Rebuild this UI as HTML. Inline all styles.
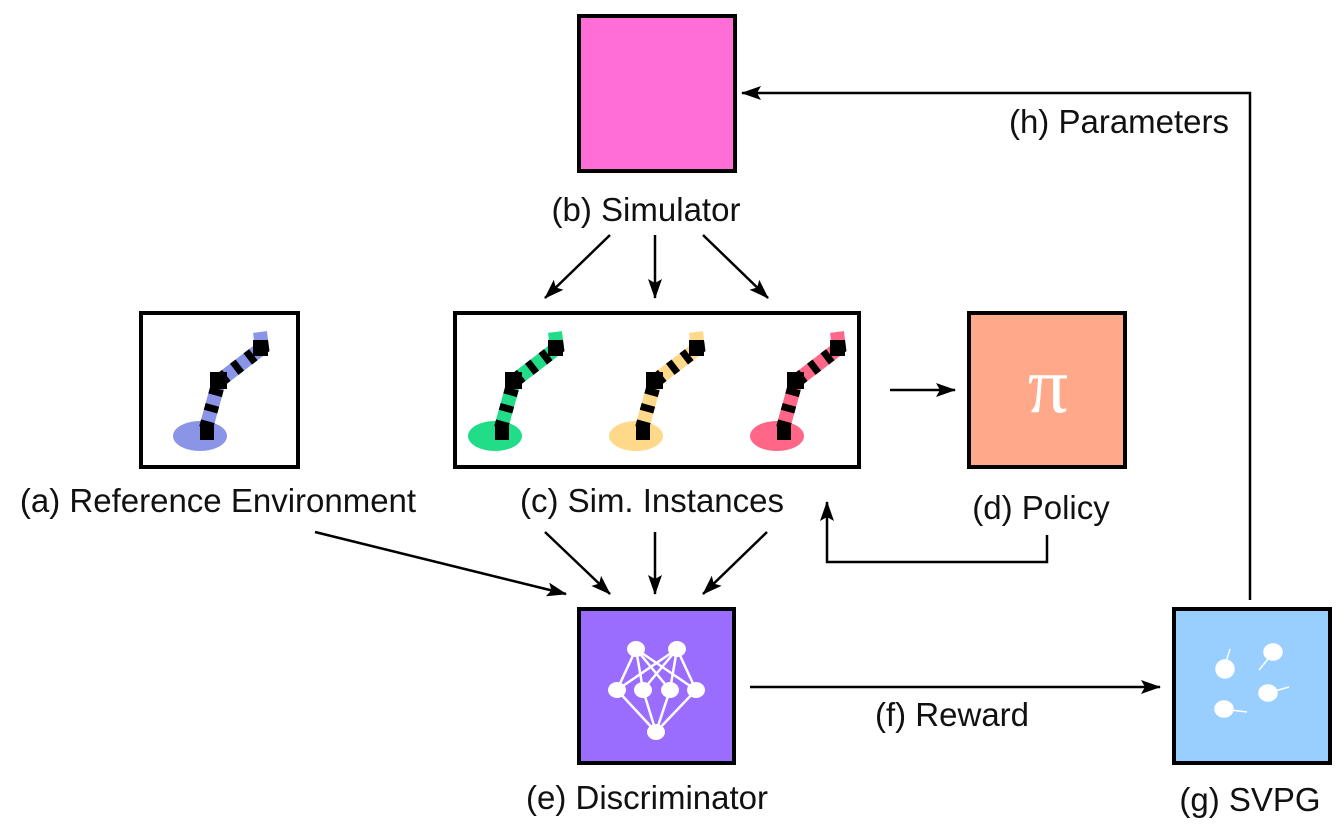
<!DOCTYPE html>
<html><head><meta charset="utf-8"><style>
html,body{margin:0;padding:0;background:#fff;}
svg{display:block;}
text{font-family:"Liberation Sans",sans-serif;font-size:33px;fill:#111;}
</style></head><body>
<svg width="1344" height="828" viewBox="0 0 1344 828" xmlns="http://www.w3.org/2000/svg">
<defs>
<marker id="ah2" markerWidth="20" markerHeight="14" refX="19" refY="7" orient="auto" markerUnits="userSpaceOnUse" viewBox="0 0 20 14">
<path d="M0,0 L20,7 L0,14 L4,7 Z" fill="#000"/></marker>
<g id="arm">
<path d="M6,-8 L19,-55 L62,-88 L60,-104" fill="none" stroke="var(--c)" stroke-width="14"/>
<path d="M6,-8 L19,-55 L62,-88 L61,-96" fill="none" stroke="#000" stroke-width="14" stroke-dasharray="7 10"/>
<rect x="10" y="-64" width="17" height="17" fill="#000"/>
<rect x="53" y="-96" width="15" height="16" fill="#000"/>
<rect x="0" y="-10" width="14" height="14" fill="#000"/>
</g>
</defs>

<rect x="579" y="16" width="156" height="155" fill="#ff6ed6" stroke="#000" stroke-width="4"/>
<rect x="141" y="313" width="157" height="154" fill="#fff" stroke="#000" stroke-width="4"/>
<rect x="455" y="313" width="404" height="154" fill="#fff" stroke="#000" stroke-width="4"/>
<rect x="969" y="313" width="156" height="154" fill="#ffa88a" stroke="#000" stroke-width="4"/>
<rect x="579" y="609" width="155" height="154" fill="#9a6dff" stroke="#000" stroke-width="4"/>
<rect x="1174" y="609" width="156" height="154" fill="#99cfff" stroke="#000" stroke-width="4"/>

<ellipse cx="200" cy="436" rx="27" ry="15" fill="#8a95e8"/>
<g transform="translate(200,436)" style="--c:#8a95e8"><use href="#arm"/></g>
<ellipse cx="495" cy="436" rx="27" ry="15" fill="#22dd88"/>
<g transform="translate(495,436)" style="--c:#22dd88"><use href="#arm"/></g>
<ellipse cx="636" cy="436" rx="27" ry="15" fill="#ffd98a"/>
<g transform="translate(636,436)" style="--c:#ffd98a"><use href="#arm"/></g>
<ellipse cx="777" cy="436" rx="27" ry="15" fill="#ff6688"/>
<g transform="translate(777,436)" style="--c:#ff6688"><use href="#arm"/></g>

<text x="1048" y="412" text-anchor="middle" style="font-family:'Liberation Serif',serif;font-size:80px;fill:#fff">π</text>

<g stroke="#fff" stroke-width="2.5">
<line x1="636" y1="649" x2="617" y2="690"/><line x1="636" y1="649" x2="643" y2="690"/><line x1="636" y1="649" x2="670" y2="690"/><line x1="636" y1="649" x2="696" y2="690"/>
<line x1="677" y1="649" x2="617" y2="690"/><line x1="677" y1="649" x2="643" y2="690"/><line x1="677" y1="649" x2="670" y2="690"/><line x1="677" y1="649" x2="696" y2="690"/>
<line x1="617" y1="690" x2="656" y2="732"/><line x1="643" y1="690" x2="656" y2="732"/><line x1="670" y1="690" x2="656" y2="732"/><line x1="696" y1="690" x2="656" y2="732"/>
</g>
<g fill="#fff">
<ellipse cx="636" cy="649" rx="9" ry="8"/><ellipse cx="677" cy="649" rx="9" ry="8"/>
<ellipse cx="617" cy="690" rx="9" ry="8"/><ellipse cx="643" cy="690" rx="9" ry="8"/><ellipse cx="670" cy="690" rx="9" ry="8"/><ellipse cx="696" cy="690" rx="9" ry="8"/>
<ellipse cx="656" cy="732" rx="9" ry="8"/>
</g>

<g fill="#fff" stroke="#fff" stroke-width="1.5">
<ellipse cx="1225" cy="669" rx="9" ry="9"/><line x1="1226" y1="662" x2="1230" y2="649"/>
<ellipse cx="1273" cy="652" rx="9" ry="8"/><line x1="1268" y1="659" x2="1259" y2="670"/>
<ellipse cx="1268" cy="693" rx="9" ry="8"/><line x1="1275" y1="691" x2="1289" y2="687"/>
<ellipse cx="1224" cy="709" rx="9" ry="8"/><line x1="1231" y1="710" x2="1247" y2="712"/>
</g>

<g stroke="#000" stroke-width="2.5" fill="none">
<line x1="610" y1="235" x2="545" y2="298" marker-end="url(#ah2)"/>
<line x1="655" y1="235" x2="655" y2="298" marker-end="url(#ah2)"/>
<line x1="703" y1="235" x2="768" y2="298" marker-end="url(#ah2)"/>
<line x1="890" y1="390" x2="955" y2="390" marker-end="url(#ah2)"/>
<polyline points="1047,535 1047,562 827,562 827,502" marker-end="url(#ah2)"/>
<line x1="315" y1="532" x2="566" y2="594" marker-end="url(#ah2)"/>
<line x1="545" y1="532" x2="610" y2="594" marker-end="url(#ah2)"/>
<line x1="655" y1="532" x2="655" y2="594" marker-end="url(#ah2)"/>
<line x1="767" y1="532" x2="703" y2="594" marker-end="url(#ah2)"/>
<line x1="750" y1="687" x2="1160" y2="687" marker-end="url(#ah2)"/>
<polyline points="1250,600 1250,93 742,93" marker-end="url(#ah2)"/>
</g>

<text x="646" y="221" text-anchor="middle">(b) Simulator</text>
<text x="218" y="512" text-anchor="middle">(a) Reference Environment</text>
<text x="652" y="512" text-anchor="middle">(c) Sim. Instances</text>
<text x="1041" y="519" text-anchor="middle">(d) Policy</text>
<text x="647" y="809" text-anchor="middle">(e) Discriminator</text>
<text x="1250" y="811" text-anchor="middle">(g) SVPG</text>
<text x="952" y="726" text-anchor="middle">(f) Reward</text>
<text x="1119" y="133" text-anchor="middle">(h) Parameters</text>
</svg>
</body></html>
